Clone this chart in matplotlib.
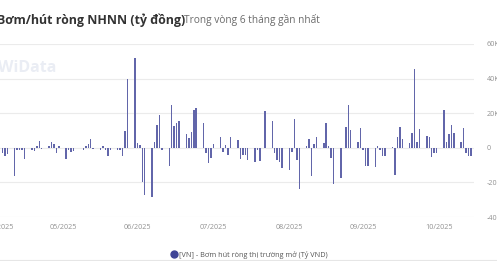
import pandas as pd
import matplotlib.pyplot as plt
from matplotlib.lines import Line2D

plt.rcParams['font.family'] = ['Open Sans', 'DejaVu Sans']

# Net injection / withdrawal (ty VND), one value per trading day
dates = [
    '2025-04-09', '2025-04-10', '2025-04-11', '2025-04-14', '2025-04-15', '2025-04-16', '2025-04-17', '2025-04-18',
    '2025-04-21', '2025-04-22', '2025-04-23', '2025-04-24', '2025-04-25', '2025-04-28', '2025-04-29', '2025-04-30',
    '2025-05-01', '2025-05-02', '2025-05-05', '2025-05-06', '2025-05-07', '2025-05-08', '2025-05-12', '2025-05-13',
    '2025-05-14', '2025-05-15', '2025-05-16', '2025-05-19', '2025-05-20', '2025-05-21', '2025-05-22', '2025-05-23',
    '2025-05-26', '2025-05-27', '2025-05-28', '2025-05-29', '2025-05-30', '2025-06-02', '2025-06-03', '2025-06-04',
    '2025-06-05', '2025-06-06', '2025-06-09', '2025-06-10', '2025-06-11', '2025-06-12', '2025-06-13', '2025-06-16',
    '2025-06-17', '2025-06-18', '2025-06-19', '2025-06-20', '2025-06-23', '2025-06-24', '2025-06-25', '2025-06-26',
    '2025-06-27', '2025-06-30', '2025-07-01', '2025-07-02', '2025-07-03', '2025-07-04', '2025-07-07', '2025-07-08',
    '2025-07-09', '2025-07-10', '2025-07-11', '2025-07-14', '2025-07-15', '2025-07-16', '2025-07-17', '2025-07-18',
    '2025-07-21', '2025-07-22', '2025-07-23', '2025-07-25', '2025-07-28', '2025-07-29', '2025-07-30', '2025-07-31',
    '2025-08-01', '2025-08-04', '2025-08-05', '2025-08-06', '2025-08-07', '2025-08-08', '2025-08-11', '2025-08-12',
    '2025-08-13', '2025-08-14', '2025-08-15', '2025-08-18', '2025-08-19', '2025-08-20', '2025-08-21', '2025-08-22',
    '2025-08-25', '2025-08-27', '2025-08-28', '2025-08-29', '2025-09-01', '2025-09-02', '2025-09-03', '2025-09-04',
    '2025-09-05', '2025-09-08', '2025-09-09', '2025-09-10', '2025-09-11', '2025-09-12', '2025-09-15', '2025-09-16',
    '2025-09-17', '2025-09-18', '2025-09-19', '2025-09-22', '2025-09-23', '2025-09-24', '2025-09-25', '2025-09-26',
    '2025-09-29', '2025-09-30', '2025-10-01', '2025-10-02', '2025-10-03', '2025-10-06', '2025-10-07', '2025-10-08',
    '2025-10-09', '2025-10-10', '2025-10-13', '2025-10-14', '2025-10-15', '2025-10-16', '2025-10-17',
]
values = [
    -3000, -4500, -3500, -16500, -1000, -1200, -1500, -6500,
    -1500, -2000, 1000, 4000, -800, 1200, 3500, 2000,
    -3000, 1200, -6500, -1000, -2500, -2000, -1500, 1000,
    2000, 5000, -800, -1000, 800, -1500, -4500, -1000,
    -1500, -1000, -5000, 10000, 39500, 52000, 3000, 1500,
    -20000, -27000, -28500, 3500, 13000, 19000, -1000, -10700,
    24700, 12700, 14600, 15700, 7900, 5600, 9400, 21900,
    23200, 14200, -3000, -8800, -6000, 2100, 6500, -2500,
    1700, -4000, 6000, 4600, -6500, -4000, -4000, -7000,
    -8000, -1000, -7800, 21300, 15400, -3000, -7000, -8000,
    -11700, -13000, -2500, 16900, -7000, -23800, 1000, 5000,
    -16500, 2300, 6500, 2700, 14200, 1000, -6000, -20700,
    -17500, 11900, 24700, 10400, 3600, 11700, -1000, -10400,
    -10400, -11100, 1000, -1000, -4600, -4600, 300, -15600,
    6000, 12300, 5000, 2700, 8800, 45300, 3600, 10800,
    7100, 6500, -5400, -3000, -3000, 21900, 3600, 8000,
    13000, 8400, 3600, 11300, -3000, -4600, -4600,
]
y_ticks = [-40000, -20000, 0, 20000, 40000, 60000]
y_labels = ['-40K', '-20K', '0', '20K', '40K', '60K']
x_tick_dates = ['2025-04-08', '2025-05-04', '2025-06-03', '2025-07-04', '2025-08-04', '2025-09-03', '2025-10-04']
x_labels = ['04/2025', '05/2025', '06/2025', '07/2025', '08/2025', '09/2025', '10/2025']

dates = pd.to_datetime(dates)

fig = plt.figure(figsize=(4.97, 2.61), dpi=100)
ax = fig.add_axes([0, 1 - 217 / 261, 474 / 497, (217 - 44) / 261])

ax.bar(dates, values, width=0.6, color='#6266aa', zorder=3)

start = pd.Timestamp('2025-05-01')
ax.set_xlim(start - pd.Timedelta(days=22.12), start + pd.Timedelta(days=170.25))
ax.set_ylim(-40000, 60000)

ax.set_xticks(pd.to_datetime(x_tick_dates))
ax.set_xticklabels(x_labels)
ax.set_yticks(y_ticks)
ax.set_yticklabels(y_labels)
ax.yaxis.tick_right()
ax.tick_params(axis='both', length=0, labelsize=5.2, labelcolor='#929292')
ax.tick_params(axis='x', pad=5)
ax.tick_params(axis='y', pad=9)
for lbl in ax.get_yticklabels():
    lbl.set_horizontalalignment('left')

ax.grid(axis='y', color='#ebebeb', linewidth=0.8, zorder=0)
ax.grid(axis='x', visible=False)
for s in ax.spines.values():
    s.set_visible(False)

# watermark
ax.text(-0.005, 0.86, 'WiData', transform=ax.transAxes, fontsize=11.5, fontweight='bold',
        color='#eaedf4', va='center', ha='left', zorder=1)

# title and subtitle
fig.text(-3 / 497, 1 - 20 / 261, 'Bơm/hút ròng NHNN (tỷ đồng)', fontsize=8.9, fontweight='bold',
         color='#333333', va='center', ha='left')
fig.text(184 / 497, 1 - 20 / 261, 'Trong vòng 6 tháng gần nhất', fontsize=7.3,
         color='#6a6a6a', va='center', ha='left')

# legend
handle = Line2D([], [], marker='o', linestyle='none', markersize=5, color='#3f4496')
fig.legend([handle], ['[VN] - Bơm hút ròng thị trường mở (Tỷ VND)'], loc='center',
           bbox_to_anchor=(249 / 497, 1 - 255 / 261), frameon=False, fontsize=5.2,
           labelcolor='#555555', handletextpad=0.2, handlelength=1.0)

fig.add_artist(Line2D([0, 1], [1 / 261, 1 / 261], color='#e6e6e6', linewidth=0.8))

fig.savefig('out.png', dpi=100)
